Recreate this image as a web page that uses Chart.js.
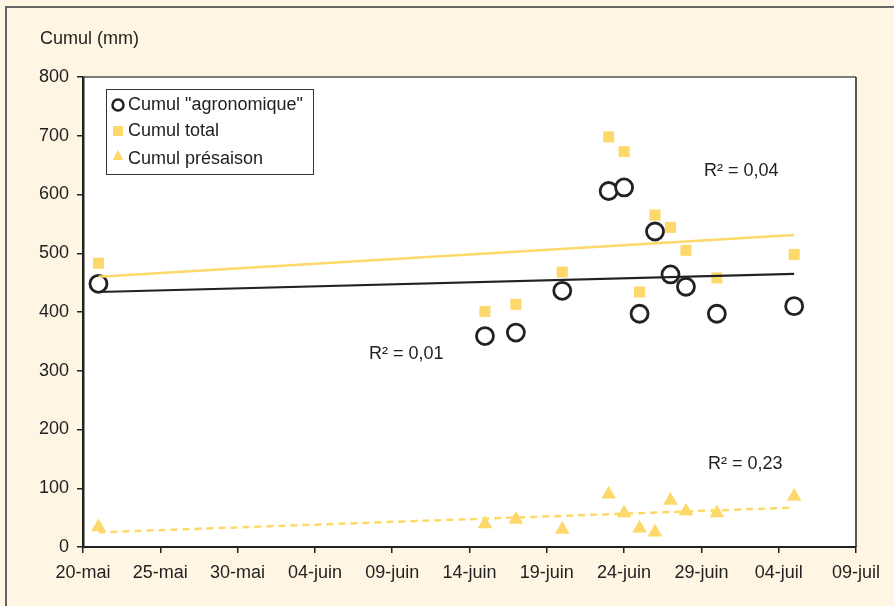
<!DOCTYPE html>
<html>
<head>
<meta charset="utf-8">
<script src="https://cdn.jsdelivr.net/npm/chart.js@4/dist/chart.umd.min.js"></script>
<style>
  html, body { margin: 0; padding: 0; background: #fef6e3; }
  #wrap { width: 894px; height: 606px; position: relative; }
</style>
</head>
<body>
<div id="wrap"><canvas id="cumulChart" width="894" height="606"></canvas></div>
<script>
// days counted from 20-mai
const dayOffsets = [1, 26, 28, 31, 34, 35, 36, 37, 38, 39, 41, 46];
const cumulAgro = [448, 359, 365, 436, 606, 612, 397, 537, 464, 443, 397, 410];
const cumulTotal = [483, 401, 413, 468, 698, 673, 434, 565, 544, 505, 458, 498];
const cumulPresaison = [34, 39, 47, 30, 90, 58, 32, 25, 79, 61, 58, 86];

// trend lines, endpoints
const trendX = [1, 46];
const trendAgro = [434, 465];
const trendTotal = [460, 531];
const trendPresaison = [25, 67];

const xTickLabels = ['20-mai', '25-mai', '30-mai', '04-juin', '09-juin', '14-juin',
                     '19-juin', '24-juin', '29-juin', '04-juil', '09-juil'];

const yellow = '#fdd96b';
const ink = '#222222';
const fontFamily = '"Liberation Sans", Arial, sans-serif';

const pts = (xs, ys) => xs.map((x, i) => ({ x: x, y: ys[i] }));

// background, frame, axis title, r² labels and legend
const decorPlugin = {
    id: 'decor',
    beforeDraw(chart) {
        const ctx = chart.ctx;
        const a = chart.chartArea;
        ctx.save();
        ctx.fillStyle = '#fef6e3';
        ctx.fillRect(0, 0, chart.width, chart.height);
        ctx.strokeStyle = '#666';
        ctx.lineWidth = 2;
        ctx.beginPath();
        ctx.moveTo(6, chart.height);
        ctx.lineTo(6, 7);
        ctx.lineTo(chart.width, 7);
        ctx.stroke();
        ctx.fillStyle = '#ffffff';
        ctx.fillRect(a.left, a.top, a.right - a.left, a.bottom - a.top);
        ctx.restore();
    },
    afterDraw(chart) {
        const ctx = chart.ctx;
        const a = chart.chartArea;
        ctx.save();
        // frame of the plot area
        ctx.strokeStyle = '#555';
        ctx.lineWidth = 1.5;
        ctx.beginPath();
        ctx.moveTo(a.left, a.top);
        ctx.lineTo(a.right, a.top);
        ctx.stroke();
        ctx.strokeStyle = ink;
        ctx.beginPath();
        ctx.moveTo(a.right, a.top);
        ctx.lineTo(a.right, a.bottom);
        ctx.stroke();

        ctx.fillStyle = ink;
        ctx.font = '18px ' + fontFamily;
        ctx.textBaseline = 'middle';
        ctx.textAlign = 'left';
        ctx.fillText('Cumul (mm)', 40, 39);

        ctx.fillText('R² = 0,04', 704, 171);
        ctx.fillText('R² = 0,01', 369, 354);
        ctx.fillText('R² = 0,23', 708, 464);

        // legend box
        ctx.fillStyle = '#ffffff';
        ctx.fillRect(106, 89, 207, 85);
        ctx.strokeStyle = '#333';
        ctx.lineWidth = 1;
        ctx.strokeRect(106.5, 89.5, 207, 85);

        ctx.strokeStyle = ink;
        ctx.lineWidth = 2.5;
        ctx.beginPath();
        ctx.arc(118, 105, 5.5, 0, Math.PI * 2);
        ctx.stroke();
        ctx.fillStyle = yellow;
        ctx.fillRect(113, 126, 10, 10);
        ctx.beginPath();
        ctx.moveTo(118, 150);
        ctx.lineTo(123.5, 160);
        ctx.lineTo(112.5, 160);
        ctx.closePath();
        ctx.fill();

        ctx.fillStyle = ink;
        ctx.font = '18px ' + fontFamily;
        ctx.fillText('Cumul "agronomique"', 128, 105);
        ctx.fillText('Cumul total', 128, 131);
        ctx.fillText('Cumul présaison', 128, 159);
        ctx.restore();
    }
};

new Chart(document.getElementById('cumulChart').getContext('2d'), {
    type: 'scatter',
    data: {
        datasets: [
            { label: 'Tendance présaison', type: 'line', data: pts(trendX, trendPresaison),
              borderColor: yellow, borderWidth: 2.5, borderDash: [7, 5], pointRadius: 0, fill: false },
            { label: 'Tendance total', type: 'line', data: pts(trendX, trendTotal),
              borderColor: yellow, borderWidth: 2.5, pointRadius: 0, fill: false },
            { label: 'Tendance agronomique', type: 'line', data: pts(trendX, trendAgro),
              borderColor: ink, borderWidth: 2.2, pointRadius: 0, fill: false },
            { label: 'Cumul total', data: pts(dayOffsets, cumulTotal),
              pointStyle: 'rect', pointRadius: 7.8, backgroundColor: yellow, borderColor: yellow, borderWidth: 0 },
            { label: 'Cumul présaison', data: pts(dayOffsets, cumulPresaison),
              pointStyle: 'triangle', pointRadius: 8.5, backgroundColor: yellow, borderColor: yellow, borderWidth: 0 },
            { label: 'Cumul "agronomique"', data: pts(dayOffsets, cumulAgro),
              pointStyle: 'circle', pointRadius: 8.5, backgroundColor: '#ffffff', borderColor: ink, borderWidth: 2.8 }
        ]
    },
    options: {
        responsive: false,
        animation: false,
        layout: { padding: { top: 77, right: 38, left: 0, bottom: 0 } },
        plugins: { legend: { display: false }, tooltip: { enabled: false } },
        scales: {
            x: {
                type: 'linear', min: 0, max: 50,
                afterFit: s => { s.height = 59; },
                afterBuildTicks: s => { s.ticks = xTickLabels.map((_, i) => ({ value: i * 5 })); },
                ticks: {
                    color: ink, font: { size: 18, family: fontFamily },
                    padding: 9, maxRotation: 0, autoSkip: false,
                    callback: (v) => xTickLabels[Math.round(v / 5)]
                },
                grid: { drawOnChartArea: false, drawTicks: true, tickLength: 6, color: ink, lineWidth: 1.5 },
                border: { color: ink, width: 2 }
            },
            y: {
                min: 0, max: 800,
                afterFit: s => { s.width = 83; },
                ticks: {
                    stepSize: 100, color: ink, padding: 8,
                    font: { size: 18, family: fontFamily }
                },
                grid: { drawOnChartArea: false, drawTicks: true, tickLength: 6, color: ink, lineWidth: 1.5 },
                border: { color: ink, width: 2.5 }
            }
        }
    },
    plugins: [decorPlugin]
});
</script>
</body>
</html>
